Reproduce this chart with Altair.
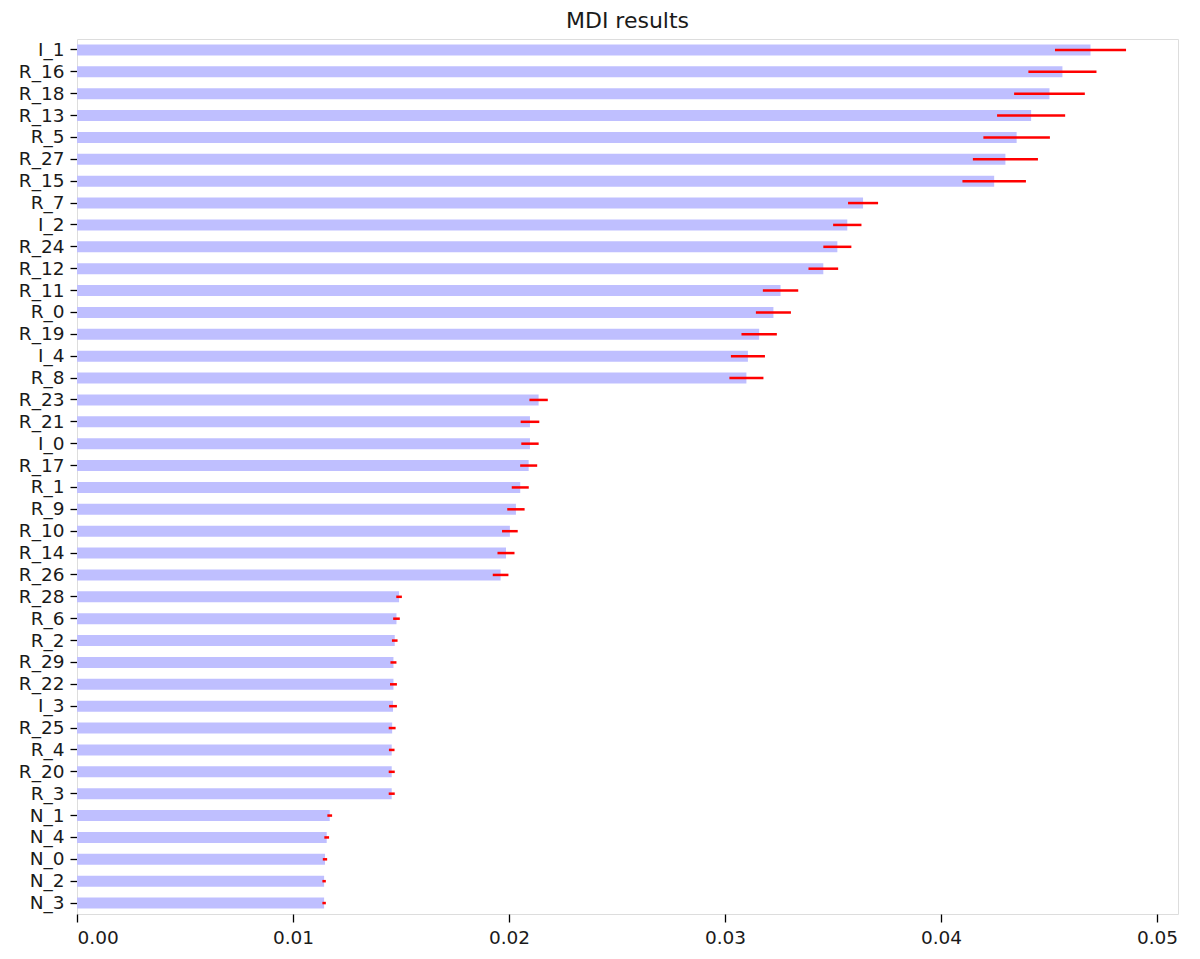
import altair as alt
import pandas as pd

features = ["I_1", "R_16", "R_18", "R_13", "R_5", "R_27", "R_15", "R_7", "I_2", "R_24",
            "R_12", "R_11", "R_0", "R_19", "I_4", "R_8", "R_23", "R_21", "I_0", "R_17",
            "R_1", "R_9", "R_10", "R_14", "R_26", "R_28", "R_6", "R_2", "R_29", "R_22",
            "I_3", "R_25", "R_4", "R_20", "R_3", "N_1", "N_4", "N_0", "N_2", "N_3"]

importance = [0.04692, 0.04562, 0.04502, 0.04417, 0.04350, 0.04298, 0.04246, 0.03639, 0.03566, 0.03520,
              0.03455, 0.03257, 0.03224, 0.03158, 0.03106, 0.03099, 0.02137, 0.02097, 0.02097, 0.02091,
              0.02052, 0.02032, 0.02004, 0.01986, 0.01961, 0.01491, 0.01479, 0.01471, 0.01465, 0.01465,
              0.01463, 0.01459, 0.01457, 0.01457, 0.01457, 0.01170, 0.01156, 0.01148, 0.01144, 0.01144]

std_err = [0.001645, 0.001576, 0.001637, 0.001576, 0.00154, 0.001506, 0.00147, 0.000695, 0.000656, 0.000649,
           0.000687, 0.000819, 0.000811, 0.000819, 0.000788, 0.000788, 0.000425, 0.000432, 0.000402, 0.000394,
           0.000394, 0.000402, 0.000363, 0.000394, 0.000363, 0.00013, 0.000154, 0.00013, 0.000139, 0.00016,
           0.00018, 0.00016, 0.00013, 0.00014, 0.00014, 0.00011, 0.00011, 0.0001, 0.00008, 0.00008]

df = pd.DataFrame({"feature": features, "importance": importance, "err": std_err})

FONT = "DejaVu Sans"

x_scale = alt.Scale(domain=[0, 0.05097], nice=False, zero=False)
y_enc = alt.Y("feature:N", sort=features,
              scale=alt.Scale(paddingInner=0.5, paddingOuter=0.25),
              axis=alt.Axis(title=None, labelFont=FONT, labelFontSize=18.5, labelColor="#1a1a1a",
                            tickSize=7, tickColor="black", tickWidth=1.3, labelPadding=6, domain=False))

bars = alt.Chart(df).mark_bar(color="#bfbfff").encode(
    x=alt.X("importance:Q", scale=x_scale,
            axis=alt.Axis(title=None, values=[0, 0.01, 0.02, 0.03, 0.04, 0.05], format=".2f",
                          labelFont=FONT, labelFontSize=18.5, labelColor="#1a1a1a",
                          tickSize=8, tickColor="black", tickWidth=1.3, labelPadding=6,
                          grid=False, domain=False)),
    y=y_enc,
)

errs = alt.Chart(df).transform_calculate(
    lo="datum.importance - datum.err",
    hi="datum.importance + datum.err",
).mark_rule(color="#ff0000", strokeWidth=2.5).encode(
    x=alt.X("lo:Q", scale=x_scale),
    x2="hi:Q",
    y=alt.Y("feature:N", sort=features),
)

chart = alt.layer(bars, errs).properties(
    width=1101,
    height=875,
    title=alt.TitleParams("MDI results", font=FONT, fontSize=22, fontWeight="normal",
                          color="#1a1a1a", anchor="middle", offset=6),
    autosize=alt.AutoSizeParams(type="none"),
    padding={"left": 69, "top": 31, "right": 14, "bottom": 36},
).configure_view(
    stroke="black", strokeWidth=1.3
).configure(background="white")

chart.save("out.html", embed_options={"renderer": "svg", "actions": False})
